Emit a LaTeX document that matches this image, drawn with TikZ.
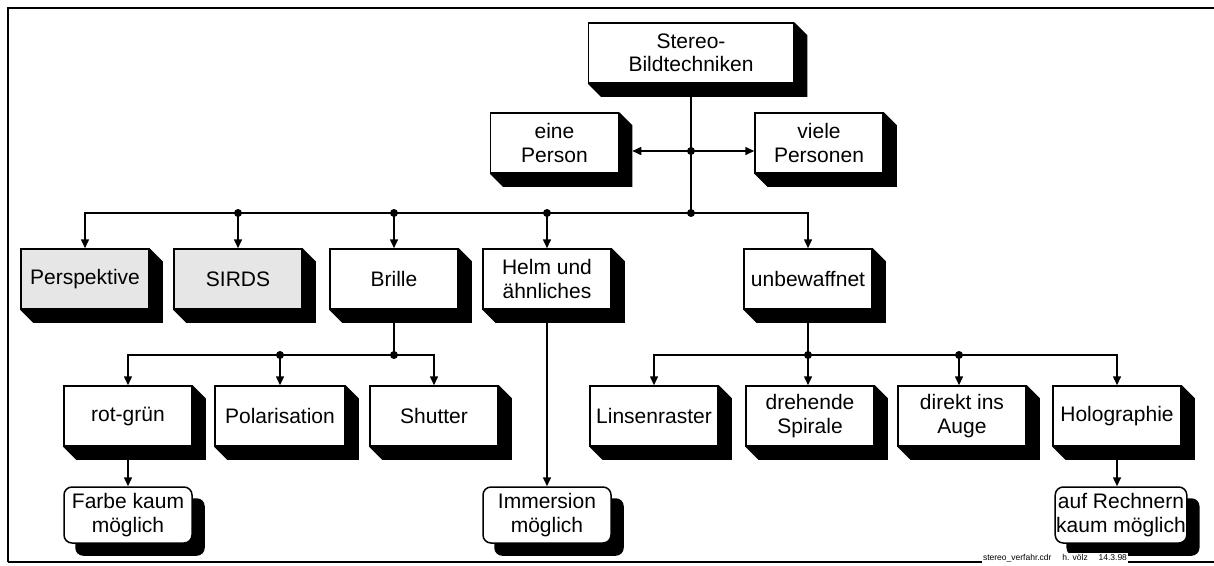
\documentclass[tikz,border=0pt]{standalone}
\usepackage{fontspec}
\setmainfont{Liberation Sans}
\usetikzlibrary{calc,arrows.meta}
\definecolor{boxgray}{HTML}{E6E6E6}
\pgfdeclarelayer{back}
\pgfsetlayers{back,main}
% black side faces and drop shadows
\newcommand{\extrude}[1]{\fill (#1.north east) -- ++(13,13) -- ($(#1.south east)+(13,13)$) -- ($(#1.south west)+(13,13)$) -- (#1.south west) -- cycle;}
\newcommand{\dropshade}[1]{\fill[rounded corners=8pt] ($(#1.north west)+(12,12)$) rectangle ($(#1.south east)+(12,12)$);}

\begin{document}
\begin{tikzpicture}[x=1pt,y=-1pt,
  every node/.style={font=\fontsize{21}{23.5}\selectfont, align=center},
  box/.style={draw, line width=1.5pt, fill=white, minimum width=128pt, minimum height=60pt, inner sep=1pt},
  greybox/.style={box, fill=boxgray},
  note/.style={box, rounded corners=8pt, minimum height=56pt},
  conn/.style={line width=1.5pt},
  arr/.style={conn, -{Triangle[length=9pt,width=8pt]}}]
\useasboundingbox (0,0) rectangle (1214,565);

% frame
\draw[line width=2.5pt] (8,562) -- (8,8) -- (1214,8);
\draw[line width=1.8pt] (8,562) -- (1214,562);
\node[font=\fontsize{8.5}{10}\selectfont, fill=white, inner sep=1.5pt] (foot) at (1055,558.5) {stereo\_verfahr.cdr \quad h. völz \quad 14.3.98};

\node[box, minimum width=205pt] (st) at (691,53) {Stereo-\\Bildtechniken};
\node[box] (eine) at (554.5,143) {eine\\Person};
\node[box] (viele) at (819,143) {viele\\Personen};

\node[greybox] (persp) at (85,279) {Perspektive};
\node[greybox] (sirds) at (238,279) {SIRDS};
\node[box] (brille) at (394,279) {Brille};
\node[box] (helm) at (547,279) {Helm und\\ähnliches};
\node[box] (unbew) at (808,279) {unbewaffnet};

\node[box] (rg) at (128,416) {rot-grün};
\node[box, minimum width=130pt] (pol) at (280,416) {Polarisation};
\node[box] (shut) at (434,416) {Shutter};
\node[box] (lins) at (654,416) {Linsenraster};
\node[box] (dreh) at (810,416) {drehende\\Spirale};
\node[box] (direkt) at (962,416) {direkt ins\\Auge};
\node[box] (holo) at (1117,416) {Holographie};

\node[note] (fk) at (128,515) {Farbe kaum\\möglich};
\node[note] (imm) at (547,515) {Immersion\\möglich};
\node[note] (rech) at (1121,515) {auf Rechnern\\kaum möglich};

\begin{pgfonlayer}{back}
\foreach \n in {st,eine,viele,persp,sirds,brille,helm,unbew,rg,pol,shut,lins,dreh,direkt,holo}
  {\extrude{\n}}
\foreach \n in {fk,imm,rech}
  {\dropshade{\n}}
\end{pgfonlayer}

\coordinate (j1) at (691,151);
\coordinate (j2) at (691,213);
\coordinate (k1) at (394,355);
\coordinate (k2) at (808,355);
\coordinate (k3) at (959,355);

% top
\draw[conn] (st.south) -- (j2);
\draw[arr] (j1) -- ($(j1 -| eine.east)+(13,0)$);
\draw[arr] (j1) -- (j1 -| viele.west);
\draw[arr] (j2) -| (persp.north);
\draw[arr] (j2) -| (unbew.north);
\foreach \n in {sirds,brille,helm}
  \draw[arr] (\n.north |- j2) -- (\n.north);
\foreach \p in {j1,j2}
  \fill (\p) circle (4pt);
\foreach \n in {sirds,brille,helm}
  \fill (\n.north |- j2) circle (4pt);

% Brille
\draw[conn] (brille.south) -- (k1);
\draw[arr] (k1) -| (rg.north);
\draw[arr] (k1) -| (shut.north);
\draw[arr] (pol.north |- k1) -- (pol.north);
\fill (k1) circle (4pt);
\fill (pol.north |- k1) circle (4pt);
\draw[arr] (rg.south) -- (fk.north);

% Helm
\draw[arr] (helm.south) -- (imm.north);

% unbewaffnet
\draw[conn] (unbew.south) -- (k2);
\draw[arr] (k2) -| (lins.north);
\draw[arr] (k2) -| (holo.north);
\draw[arr] (k2) -- (k2 |- dreh.north);
\draw[arr] (k3) -- (k3 |- direkt.north);
\fill (k2) circle (4pt);
\fill (k3) circle (4pt);
\draw[arr] (holo.south) -- (holo.south |- rech.north);

\end{tikzpicture}
\end{document}
